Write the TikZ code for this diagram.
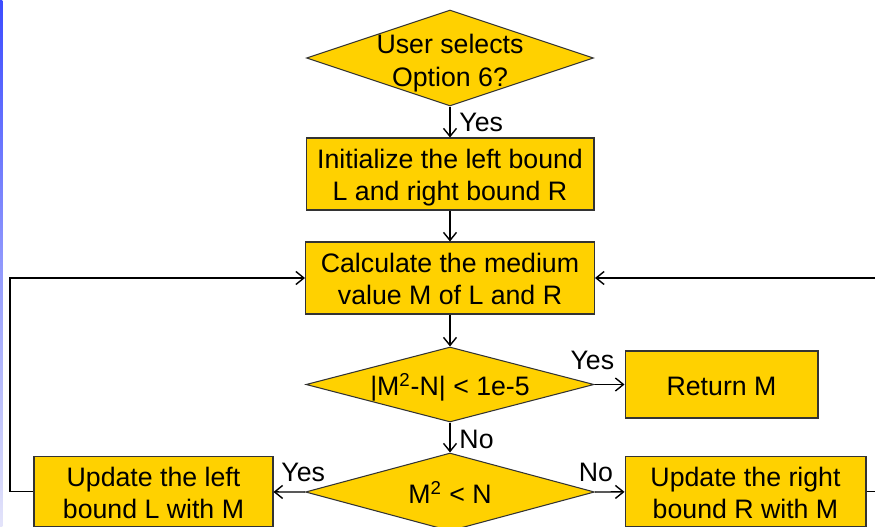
\documentclass[tikz,border=0pt]{standalone}
\usepackage{fontspec}
\setmainfont{Liberation Sans}
\usetikzlibrary{shapes.geometric, arrows.meta}
\definecolor{flowgold}{RGB}{255,209,0}
\definecolor{slideblue}{RGB}{60,76,255}
\definecolor{slidepale}{RGB}{228,228,250}
\begin{document}
\begin{tikzpicture}[
        x=0.02cm, y=-0.02cm,
        every node/.style={font=\fontsize{15.2}{18.2}\selectfont},
        boxtext/.style={align=center, execute at begin node={\rule{0pt}{#1}}, execute at end node={\rule[-5pt]{0pt}{5pt}}},
        twolines/.style={boxtext=35.2pt},
        oneline/.style={boxtext=18pt},
        process/.style={rectangle, draw=black!80, fill=flowgold, line width=0.6pt, inner sep=0pt},
        decision/.style={diamond, draw=black!80, fill=flowgold, line width=0.6pt, inner sep=0pt},
        answer/.style={inner sep=1pt},
        flow/.style={line width=0.8pt, -{Straight Barb[length=1.6mm, width=2.6mm]}},
    ]
    \useasboundingbox (0,0) rectangle (875,527);
    \clip (0,0) rectangle (875,527);

    % slide edge
    \shade[top color=slideblue, bottom color=slidepale] (0,0) rectangle (2.5,527);

    % Start question
    \node[decision, minimum width=5.74cm, minimum height=1.92cm] (option) at (450,58) {};
    \node[boxtext=37.9pt, font=\fontsize{15.2}{19}\selectfont] (optiontext) at (option) {User selects\\Option 6?};

    % Set up bounds
    \node[process, twolines, minimum width=5.76cm, minimum height=1.44cm] (init) at (450,174) {Initialize the left bound\\L and right bound R};
    \node[process, twolines, minimum width=5.78cm, minimum height=1.44cm] (calc) at (450,278) {Calculate the medium\\value M of L and R};

    % Precision test
    \node[decision, minimum width=5.76cm, minimum height=1.5cm] (close) at (450,384.5) {};
    \node[oneline] (closetext) at (close) {|M\textsuperscript{2}-N| < 1e-5};
    \node[process, oneline, minimum width=3.86cm, minimum height=1.34cm] (ret) at (721.5,384.5) {Return M};

    % Compare and update
    \node[decision, minimum width=5.78cm, minimum height=1.56cm] (less) at (450,492) {};
    \node[oneline] (lesstext) at (less) {M\textsuperscript{2} < N};
    \node[process, twolines, minimum width=4.78cm, minimum height=1.33cm] (left) at (153.5,491.7) {Update the left\\bound L with M};
    \node[process, twolines, minimum width=4.82cm, minimum height=1.32cm] (right) at (745.5,491.5) {Update the right\\bound R with M};

    % Loop corners
    \coordinate (lturn) at (10,491.7);
    \coordinate (rturn) at (905,491.5);

    % Connectors
    \draw[flow] (option) -- node[answer, right=4pt] (yes1) {Yes} (init);
    \draw[flow] (init) -- (calc);
    \draw[flow] (calc) -- (close);
    \draw[flow] (close.east) -- node[answer, at start, anchor=south, xshift=-1.2pt, yshift=7pt] (yes2) {Yes} (ret);
    \draw[flow] (close) -- node[answer, right=4pt, yshift=-1pt] (no1) {No} (less);
    \draw[flow] (less.west) -- node[answer, at start, anchor=south, xshift=-1pt, yshift=4.7pt] (yes3) {Yes} (left);
    \draw[flow] (less.east) -- node[answer, at start, anchor=south, xshift=0.5pt, yshift=4.7pt] (no2) {No} (right);
    \draw[flow] (left.west) -- (lturn) |- (calc.west);
    \draw[flow] (right.east) -- (rturn) |- (calc.east);
\end{tikzpicture}
\end{document}
